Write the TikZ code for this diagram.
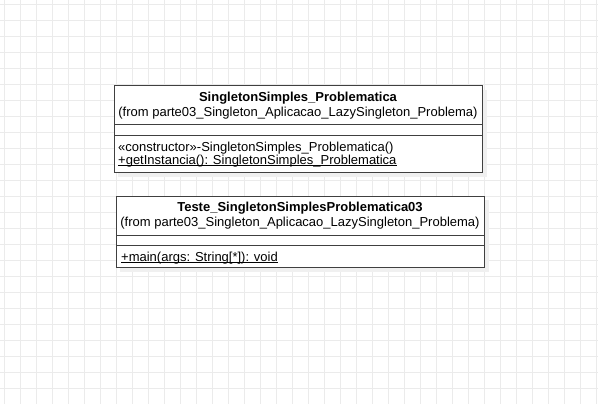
\documentclass[tikz,border=0pt]{standalone}
\usepackage{fontspec}
\setmainfont{Liberation Sans}
\begin{document}
\begin{tikzpicture}[x=1pt,y=-1pt,
  gridline/.style={draw=black!8,line width=0.8pt},
  umlbox/.style={draw=black!75,line width=1pt,fill=white},
  shadowbox/.style={fill=black!6,draw=none},
  divider/.style={draw=black!75,line width=1pt},
  uline/.style={draw=black,line width=0.8pt},
  ttl/.style={font=\fontsize{13}{15}\selectfont\bfseries,anchor=center,inner sep=0pt},
  frm/.style={font=\fontsize{13}{15}\selectfont,anchor=center,inner sep=0pt},
  mth/.style={font=\fontsize{13}{15}\selectfont,anchor=base west,inner sep=0pt}]
\path[use as bounding box,fill=white] (0,0) rectangle (598,404);
\foreach \i in {0,...,37} {\draw[gridline] (4+16*\i,0) -- (4+16*\i,404);}
\foreach \j in {0,...,25} {\draw[gridline] (0,4+16*\j) -- (598,4+16*\j);}
% box 1
\fill[shadowbox] (118,90) rectangle (487,177);
\draw[umlbox] (114,86) rectangle (482,172);
\draw[divider] (114,124.5) -- (482,124.5);
\draw[divider] (114,135.5) -- (482,135.5);
\node[ttl] (t1) at (298,98) {SingletonSimples\_Problematica};
\node[frm] (f1) at (298,113) {(from parte03\_Singleton\_Aplicacao\_LazySingleton\_Problema)};
\node[mth] (m1a) at (118,151) {«constructor»-SingletonSimples\_Problematica()};
\node[mth] (m1b) at (118,164.5) {+getInstancia(): SingletonSimples\_Problematica};
\draw[uline] ([yshift=-1.3pt]m1b.base west) -- ([yshift=-1.3pt]m1b.base east);
% box 2
\fill[shadowbox] (120,200) rectangle (489,272);
\draw[umlbox] (116,196) rectangle (484,267);
\draw[divider] (116,235.5) -- (484,235.5);
\draw[divider] (116,245.5) -- (484,245.5);
\node[ttl] (t2) at (300,208) {Teste\_SingletonSimplesProblematica03};
\node[frm] (f2) at (300,223.5) {(from parte03\_Singleton\_Aplicacao\_LazySingleton\_Problema)};
\node[mth] (m2a) at (121,261) {+main(args: String[*]): void};
\draw[uline] ([yshift=-1.3pt]m2a.base west) -- ([yshift=-1.3pt]m2a.base east);
\end{tikzpicture}
\end{document}
